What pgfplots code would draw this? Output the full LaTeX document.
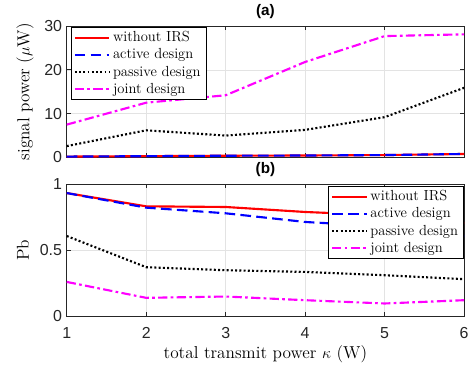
\documentclass[border=0pt]{standalone}
\usepackage{fontspec}
\usepackage{pgfplots}
\pgfplotsset{compat=1.18}
\newfontfamily\helv{Liberation Sans}
\definecolor{axgray}{gray}{0.15}
\definecolor{mag}{rgb}{1,0,1}
\pgfplotsset{
  myax/.style={
    scale only axis, width=299.25pt, height=99pt,
    xmin=1, xmax=6, xtick={1,2,3,4,5,6},
    axis line style={axgray, line width=0.5pt},
    tick style={axgray, line width=0.5pt},
    major tick length=3pt,
    tick align=inside,
    xtick pos=both, ytick pos=both,
    grid=major, major grid style={gray!22, line width=0.4pt},
    tick label style={font=\fontsize{12}{13}\helv, text=axgray},
    xticklabel style={yshift=-5pt},
    /pgf/number format/assume math mode=true,
    label style={font=\fontsize{13}{15}\selectfont},
    title style={font=\fontsize{11.5}{13}\helv\bfseries, at={(axis description cs:0.5,1)}, anchor=south, yshift=-4pt},
    legend style={font=\fontsize{11}{13.8}\selectfont, draw=black, line width=0.5pt, fill=white, inner xsep=2pt, inner ysep=1.5pt, row sep=-0.3pt},
    legend cell align=left,
    legend image code/.code={\draw[##1] (0pt,0pt) -- (26pt,0pt);},
  },
  s1/.style={red, line width=1.6pt, solid},
  s2/.style={blue, line width=1.6pt, dash pattern=on 8pt off 4pt},
  s3/.style={black, line width=1.6pt, dash pattern=on 1.5pt off 1.7pt},
  s4/.style={mag, line width=1.6pt, dash pattern=on 7pt off 2.5pt on 2pt off 2.5pt},
}
\begin{document}
\begin{tikzpicture}
\path (0,0) rectangle (354.75pt,271.5pt);
\begin{axis}[myax, at={(50.25pt,153.75pt)}, anchor=south west,
  ymin=0, ymax=30, ytick={0,10,20,30}, xticklabels={},
  title={(a)},
  ylabel={signal power ($\mu$W)},
  ylabel style={at={(axis description cs:-0.105,0.5)}, anchor=center},
  legend style={at={(axis description cs:0.01,0.995)}, anchor=north west}]
\addplot[s1] coordinates {(1,0.2) (2,0.3) (3,0.4) (4,0.45) (5,0.55) (6,0.8)};
\addplot[s2] coordinates {(1,0.2) (2,0.3) (3,0.4) (4,0.45) (5,0.55) (6,0.8)};
\addplot[s3] coordinates {(1,2.6) (2,6.2) (3,5.0) (4,6.3) (5,9.2) (6,15.9)};
\addplot[s4] coordinates {(1,7.5) (2,12.5) (3,14.2) (4,21.8) (5,27.7) (6,28.1)};
\legend{without IRS, active design, passive design, joint design}
\end{axis}
\begin{axis}[myax, at={(50.25pt,34.5pt)}, anchor=south west,
  ymin=0, ymax=1, ytick={0,0.5,1},
  title={(b)},
  ylabel={Pb},
  ylabel style={at={(axis description cs:-0.11,0.5)}, anchor=center},
  xlabel={total transmit power $\kappa$ (W)},
  xlabel style={at={(axis description cs:0.5,-0.29)}, anchor=center},
  legend style={at={(axis description cs:0.999,0.99)}, anchor=north east}]
\addplot[s1] coordinates {(1,0.934) (2,0.833) (3,0.828) (4,0.79) (5,0.765) (6,0.706)};
\addplot[s2] coordinates {(1,0.934) (2,0.823) (3,0.78) (4,0.714) (5,0.68) (6,0.607)};
\addplot[s3] coordinates {(1,0.607) (2,0.37) (3,0.347) (4,0.334) (5,0.309) (6,0.279)};
\addplot[s4] coordinates {(1,0.258) (2,0.137) (3,0.147) (4,0.119) (5,0.094) (6,0.119)};
\legend{without IRS, active design, passive design, joint design}
\end{axis}
\end{tikzpicture}
\end{document}
